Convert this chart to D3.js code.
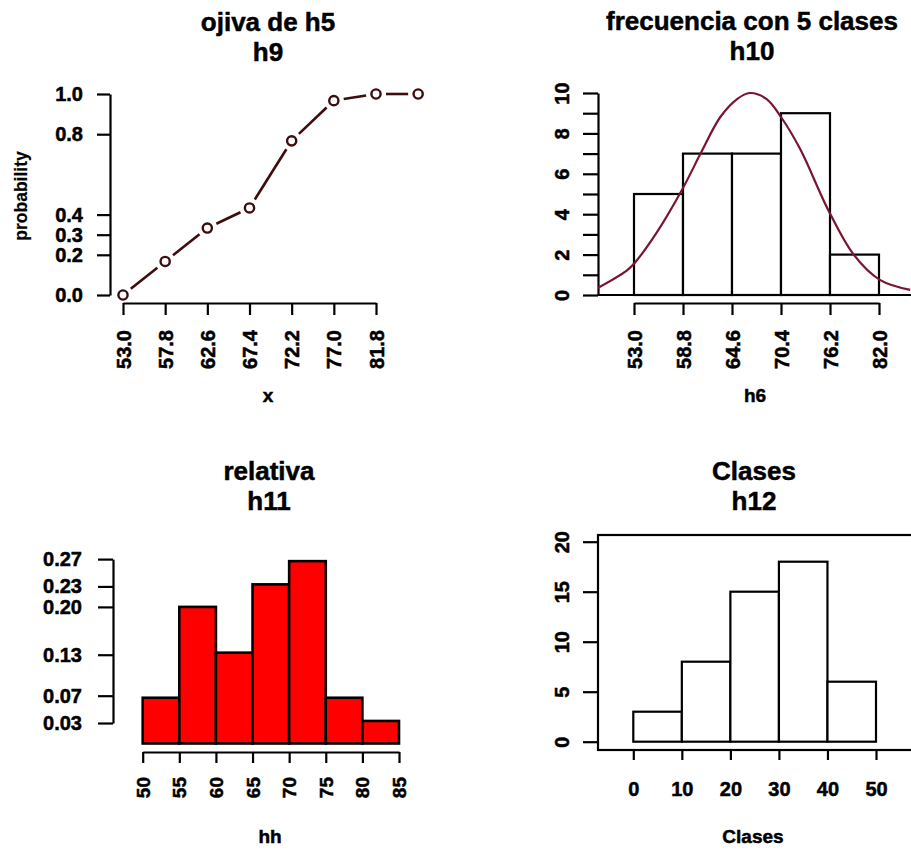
<!DOCTYPE html>
<html>
<head>
<meta charset="utf-8">
<script src="https://cdn.jsdelivr.net/npm/d3@7"></script>
<style>
body { margin: 0; background: white; }
svg { display: block; }
text { font-family: "Liberation Sans", Arial, sans-serif; font-weight: bold; fill: black; stroke: black; stroke-width: 0.5; }
.axis path, .axis line { stroke: black; stroke-width: 2.2; }
.axis text { font-family: "Liberation Sans", Arial, sans-serif; font-weight: bold; fill: black; stroke: black; stroke-width: 0.5; }
</style>
</head>
<body>
<svg></svg>
<script>
// ojiva (top left)
var ogiveX = [53.0, 57.8, 62.6, 67.4, 72.2, 77.0, 81.8, 86.6];
var ogiveProb = [0, 0.167, 0.333, 0.433, 0.767, 0.967, 1.0, 1.0];
var ogiveTicksX = [53.0, 57.8, 62.6, 67.4, 72.2, 77.0, 81.8];
var ogiveTicksY = [0, 0.2, 0.3, 0.4, 0.8, 1.0];

// frecuencia con 5 clases (top right)
var freqBreaks = [53.0, 58.8, 64.6, 70.4, 76.2, 82.0];
var freqCounts = [5, 7, 7, 9, 2];
var curveX = [48.7, 52.1, 53.1, 55.7, 58.8, 61.0, 63.2, 65.2, 66.7, 68.7, 70.5, 72.7, 76.0, 79.0, 82.1, 85.7];
var curveY = [0.35, 1.2, 1.6, 3.1, 5.3, 7.1, 8.8, 9.7, 10.0, 9.7, 8.75, 7.2, 4.2, 2.0, 0.75, 0.25];

// relativa (bottom left)
var relBreaks = [50, 55, 60, 65, 70, 75, 80, 85];
var relValues = [0.067, 0.2, 0.133, 0.233, 0.267, 0.067, 0.033];
var relTicks = [0.03, 0.07, 0.13, 0.20, 0.23, 0.27];

// Clases (bottom right)
var classBreaks = [0, 10, 20, 30, 40, 50];
var classCounts = [3, 8, 15, 18, 6];

var screen = {width: 911, height: 850};

var svg = d3.select("svg")
    .attr("width", screen.width)
    .attr("height", screen.height);

var title = function(cx, y, lines)
{
    lines.forEach(function(t, i)
    {
        svg.append("text")
            .attr("x", cx)
            .attr("y", y + i * 30)
            .attr("text-anchor", "middle")
            .style("font-size", "26px")
            .text(t);
    });
}

var label = function(cx, y, t)
{
    svg.append("text")
        .attr("x", cx)
        .attr("y", y)
        .attr("text-anchor", "middle")
        .style("font-size", "19px")
        .text(t);
}

// rotate bottom tick labels so they read upward (las = 2)
var rotateBottom = function(g, top, size)
{
    g.selectAll(".tick text")
        .style("font-size", size)
        .attr("text-anchor", "end")
        .attr("dy", null)
        .attr("y", null)
        .attr("transform", "translate(0," + top + ") rotate(-90)")
        .attr("dominant-baseline", "central");
}

var rotateLeft = function(g, xoff, size)
{
    g.selectAll(".tick text")
        .style("font-size", size)
        .attr("text-anchor", "middle")
        .attr("x", null)
        .attr("dy", null)
        .attr("transform", "translate(" + xoff + ",0) rotate(-90)")
        .attr("dominant-baseline", "central");
}

// ---------- panel 1 ----------
var x1 = d3.scaleLinear().domain([53.0, 81.8]).range([123, 376]);
var y1 = d3.scaleLinear().domain([0, 1]).range([295, 94]);

svg.append("g").attr("class", "axis")
    .attr("transform", "translate(110,0)")
    .call(d3.axisLeft(y1).tickValues(ogiveTicksY).tickSize(13).tickSizeOuter(0).tickPadding(14).tickFormat(d3.format(".1f")))
    .selectAll("text").style("font-size", "20px");

var gx1 = svg.append("g").attr("class", "axis")
    .attr("transform", "translate(0,303)")
    .call(d3.axisBottom(x1).tickValues(ogiveTicksX).tickSize(12).tickSizeOuter(0).tickFormat(d3.format(".1f")));
rotateBottom(gx1, 27, "20px");

var pts = ogiveX.map(function(d, i) { return [x1(d), y1(ogiveProb[i])]; });
var lineColor = "#3d0c0c";
for (var i = 0; i < pts.length - 1; i++)
{
    var a = pts[i], b = pts[i + 1];
    var dx = b[0] - a[0], dy = b[1] - a[1];
    var len = Math.sqrt(dx * dx + dy * dy);
    var gap = 10;
    if (len > 2 * gap)
    {
        svg.append("line")
            .attr("x1", a[0] + dx / len * gap)
            .attr("y1", a[1] + dy / len * gap)
            .attr("x2", b[0] - dx / len * gap)
            .attr("y2", b[1] - dy / len * gap)
            .attr("stroke", lineColor)
            .attr("stroke-width", 2.6);
    }
}
svg.append("g").selectAll("circle")
    .data(pts)
    .enter()
    .append("circle")
    .attr("cx", function(d) { return d[0]; })
    .attr("cy", function(d) { return d[1]; })
    .attr("r", 4.6)
    .attr("fill", "white")
    .attr("stroke", lineColor)
    .attr("stroke-width", 2.4);

title(268, 31, ["ojiva de h5", "h9"]);
label(268, 402, "x");
svg.append("text")
    .attr("transform", "translate(27,196) rotate(-90)")
    .attr("text-anchor", "middle")
    .style("font-size", "17.5px")
    .style("stroke-width", 0.2)
    .text("probability");

// ---------- panel 2 ----------
var x2 = d3.scaleLinear().domain([53.0, 82.0]).range([634, 879]);
var y2 = d3.scaleLinear().domain([0, 10]).range([295, 93]);

svg.append("line")
    .attr("x1", 598).attr("x2", 911)
    .attr("y1", y2(0)).attr("y2", y2(0))
    .attr("stroke", "black").attr("stroke-width", 2.2);

svg.append("g").selectAll("rect")
    .data(freqCounts)
    .enter()
    .append("rect")
    .attr("x", function(d, i) { return x2(freqBreaks[i]); })
    .attr("y", function(d) { return y2(d); })
    .attr("width", function(d, i) { return x2(freqBreaks[i + 1]) - x2(freqBreaks[i]); })
    .attr("height", function(d) { return y2(0) - y2(d); })
    .attr("fill", "white")
    .attr("stroke", "black")
    .attr("stroke-width", 2.2);

var gy2 = svg.append("g").attr("class", "axis")
    .attr("transform", "translate(598,0)")
    .call(d3.axisLeft(y2).tickValues(d3.range(0, 11)).tickSize(15).tickSizeOuter(0)
        .tickFormat(function(d) { return d % 2 == 0 ? d : ""; }));
rotateLeft(gy2, -36, "20px");

var gx2 = svg.append("g").attr("class", "axis")
    .attr("transform", "translate(0,303)")
    .call(d3.axisBottom(x2).tickValues(freqBreaks).tickSize(12).tickSizeOuter(0).tickFormat(d3.format(".1f")));
rotateBottom(gx2, 27, "20px");

svg.append("clipPath").attr("id", "clip2")
    .append("rect").attr("x", 598).attr("y", 60).attr("width", 313).attr("height", 240);

var curveGen = d3.line()
    .x(function(d, i) { return x2(d); })
    .y(function(d, i) { return y2(curveY[i]); })
    .curve(d3.curveCatmullRom);

svg.append("path")
    .datum(curveX)
    .attr("d", curveGen)
    .attr("clip-path", "url(#clip2)")
    .attr("fill", "none")
    .attr("stroke", "#7a1530")
    .attr("stroke-width", 2.2);

title(752, 30, ["frecuencia con 5 clases", "h10"]);
label(755, 402, "h6");

// ---------- panel 3 ----------
var x3 = d3.scaleLinear().domain([50, 85]).range([142.7, 399]);
var y3 = d3.scaleLinear().domain([0, 0.27]).range([743.5, 559.1]);
var y3axis = d3.scaleLinear().domain([0.03, 0.27]).range([y3(0.03), y3(0.27)]);

svg.append("g").selectAll("rect")
    .data(relValues)
    .enter()
    .append("rect")
    .attr("x", function(d, i) { return x3(relBreaks[i]); })
    .attr("y", function(d) { return y3(d); })
    .attr("width", function(d, i) { return x3(relBreaks[i + 1]) - x3(relBreaks[i]); })
    .attr("height", function(d) { return y3(0) - y3(d); })
    .attr("fill", "#ff0000")
    .attr("stroke", "black")
    .attr("stroke-width", 2.6);

svg.append("g").attr("class", "axis")
    .attr("transform", "translate(113,0)")
    .call(d3.axisLeft(y3axis).tickValues(relTicks).tickSize(15).tickSizeOuter(0).tickPadding(16).tickFormat(d3.format(".2f")))
    .selectAll("text").style("font-size", "20px");

var gx3 = svg.append("g").attr("class", "axis")
    .attr("transform", "translate(0,752)")
    .call(d3.axisBottom(x3).tickValues(relBreaks).tickSize(11).tickSizeOuter(0));
rotateBottom(gx3, 25, "19px");

title(269, 480, ["relativa", "h11"]);
label(270, 843, "hh");

// ---------- panel 4 ----------
var x4 = d3.scaleLinear().domain([0, 50]).range([633.3, 876]);
var y4 = d3.scaleLinear().domain([0, 20]).range([741.7, 541.7]);

svg.append("rect")
    .attr("x", 598).attr("y", 535)
    .attr("width", 340).attr("height", 215)
    .attr("fill", "none")
    .attr("stroke", "black")
    .attr("stroke-width", 2.2);

svg.append("g").selectAll("rect")
    .data(classCounts)
    .enter()
    .append("rect")
    .attr("x", function(d, i) { return x4(classBreaks[i]); })
    .attr("y", function(d) { return y4(d); })
    .attr("width", function(d, i) { return x4(classBreaks[i + 1]) - x4(classBreaks[i]); })
    .attr("height", function(d) { return y4(0) - y4(d); })
    .attr("fill", "white")
    .attr("stroke", "black")
    .attr("stroke-width", 2.2);

var gy4 = svg.append("g").attr("class", "axis")
    .attr("transform", "translate(598,0)")
    .call(d3.axisLeft(y4).tickValues([0, 5, 10, 15, 20]).tickSize(15).tickSizeOuter(0));
gy4.select(".domain").remove();
rotateLeft(gy4, -36, "20px");

var gx4 = svg.append("g").attr("class", "axis")
    .attr("transform", "translate(0,750)")
    .call(d3.axisBottom(x4).tickValues(classBreaks).tickSize(10).tickSizeOuter(0).tickPadding(22));
gx4.select(".domain").remove();
gx4.selectAll("text").style("font-size", "20px");

title(754, 480, ["Clases", "h12"]);
label(753, 843, "Clases");
</script>
</body>
</html>
